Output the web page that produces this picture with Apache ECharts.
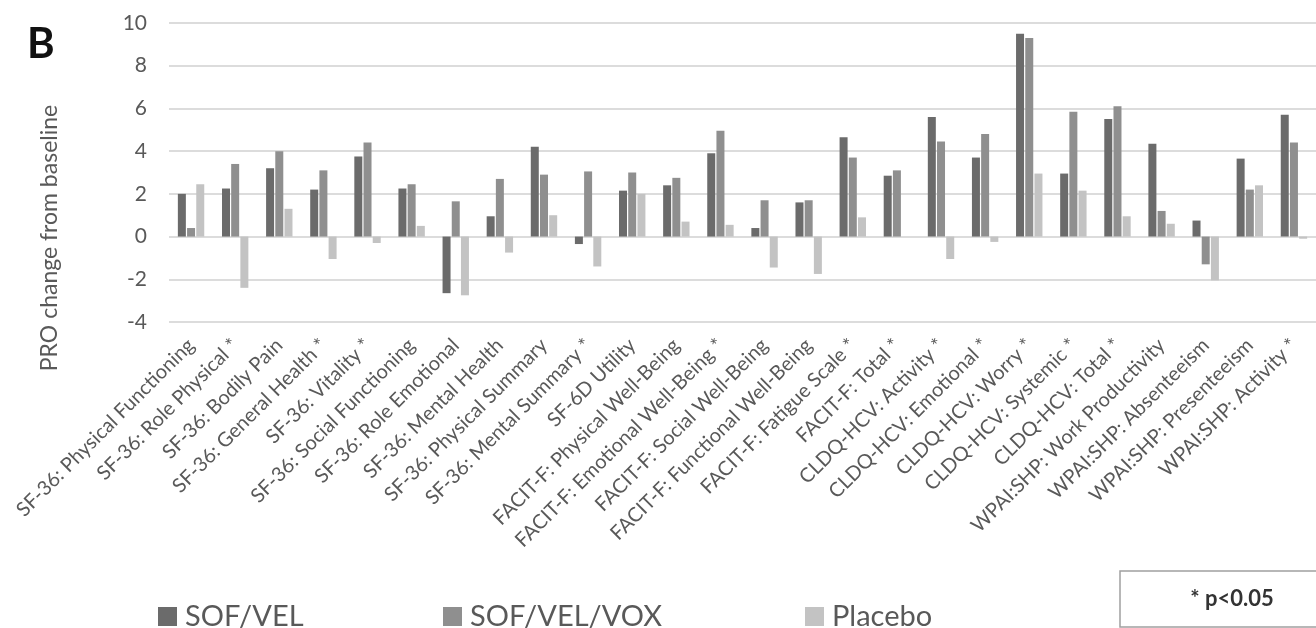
<!DOCTYPE html>
<html>
<head>
<meta charset="UTF-8">
<title>PRO change from baseline</title>
<script src="https://cdn.jsdelivr.net/npm/echarts@6/dist/echarts.min.js"></script>
<style>
  html, body { margin: 0; padding: 0; background: #fff; }
  #main { width: 1316px; height: 628px; }
</style>
</head>
<body>
<div id="main"></div>
<script>
  // categories (x axis)
  var categories = [
    'SF-36: Physical Functioning', 'SF-36: Role Physical *', 'SF-36: Bodily Pain',
    'SF-36: General Health *', 'SF-36: Vitality *', 'SF-36: Social Functioning',
    'SF-36: Role Emotional', 'SF-36: Mental Health', 'SF-36: Physical Summary',
    'SF-36: Mental Summary *', 'SF-6D Utility', 'FACIT-F: Physical Well-Being',
    'FACIT-F: Emotional Well-Being *', 'FACIT-F: Social Well-Being',
    'FACIT-F: Functional Well-Being', 'FACIT-F: Fatigue Scale *', 'FACIT-F: Total *',
    'CLDQ-HCV: Activity *', 'CLDQ-HCV: Emotional *', 'CLDQ-HCV: Worry *',
    'CLDQ-HCV: Systemic *', 'CLDQ-HCV: Total *', 'WPAI:SHP: Work Productivity',
    'WPAI:SHP: Absenteeism', 'WPAI:SHP: Presenteeism', 'WPAI:SHP: Activity *'
  ];
  // values
  var sofVel = [2.0, 2.25, 3.2, 2.2, 3.75, 2.25, -2.65, 0.95, 4.2, -0.35, 2.15, 2.4,
                3.9, 0.4, 1.6, 4.65, 2.85, 5.6, 3.7, 9.5, 2.95, 5.5, 4.35, 0.75, 3.65, 5.7];
  var sofVelVox = [0.4, 3.4, 4.0, 3.1, 4.4, 2.45, 1.65, 2.7, 2.9, 3.05, 3.0, 2.75,
                   4.95, 1.7, 1.7, 3.7, 3.1, 4.45, 4.8, 9.3, 5.85, 6.1, 1.2, -1.3, 2.2, 4.4];
  var placebo = [2.45, -2.4, 1.3, -1.05, -0.3, 0.5, -2.75, -0.75, 1.0, -1.4, 2.0, 0.7,
                 0.55, -1.45, -1.75, 0.9, 0.0, -1.05, -0.25, 2.95, 2.15, 0.95, 0.6, -2.05, 2.4, -0.1];
  var yTicks = { min: -4, max: 10, step: 2 };

  var font = 'Lato, "Open Sans", sans-serif';
  var txt = '#595959';

  var myChart = echarts.init(document.getElementById('main'));
  var option = {
    animation: false,
    textStyle: { fontFamily: font },
    grid: { left: 169, right: -3, top: 23, bottom: 306 },
    legend: [
      { data: ['SOF/VEL'], left: 153, top: 597 },
      { data: ['SOF/VEL/VOX'], left: 438, top: 597 },
      { data: ['Placebo'], left: 800, top: 597 }
    ].map(function (l) {
      l.icon = 'rect';
      l.itemWidth = 19;
      l.itemHeight = 19;
      l.itemGap = 6;
      l.textStyle = { fontFamily: font, fontSize: 29, color: txt, padding: [0, 0, 0, 3] };
      return l;
    }),
    xAxis: {
      type: 'category',
      data: categories,
      axisLine: { show: false },
      axisTick: { show: false },
      axisLabel: {
        interval: 0, rotate: 45, margin: 20,
        fontSize: 20, color: txt, fontFamily: font
      }
    },
    yAxis: {
      type: 'value',
      min: yTicks.min, max: yTicks.max, interval: yTicks.step,
      axisLine: { show: false },
      axisTick: { show: false },
      axisLabel: { fontSize: 21, color: txt, margin: 22, fontFamily: font },
      splitLine: { lineStyle: { color: '#dcdcdc', width: 2 } }
    },
    series: [
      { name: 'SOF/VEL', type: 'bar', data: sofVel, itemStyle: { color: '#6b6b6b' } },
      { name: 'SOF/VEL/VOX', type: 'bar', data: sofVelVox, itemStyle: { color: '#8f8f8f' } },
      { name: 'Placebo', type: 'bar', data: placebo, itemStyle: { color: '#c3c3c3' } }
    ].map(function (s) {
      s.barWidth = 8;
      s.barGap = '15%';
      return s;
    }),
    graphic: [
      {
        type: 'text', left: 27, top: 23,
        style: { text: 'B', font: 'bold 42px ' + font, fill: '#111' }
      },
      {
        type: 'text', x: 50, y: 238, rotation: Math.PI / 2,
        style: {
          text: 'PRO change from baseline', font: '23px ' + font,
          fill: txt, align: 'center', verticalAlign: 'middle'
        }
      },
      {
        type: 'rect', shape: { x: 1120, y: 571, width: 210, height: 56 },
        style: { fill: '#fff', stroke: '#a0a0a0', lineWidth: 1.5 }
      },
      {
        type: 'text', x: 1232, y: 599,
        style: {
          text: '* p<0.05', font: 'bold 22px ' + font, fill: '#333',
          align: 'center', verticalAlign: 'middle'
        }
      }
    ]
  };
  myChart.setOption(option);
</script>
</body>
</html>
